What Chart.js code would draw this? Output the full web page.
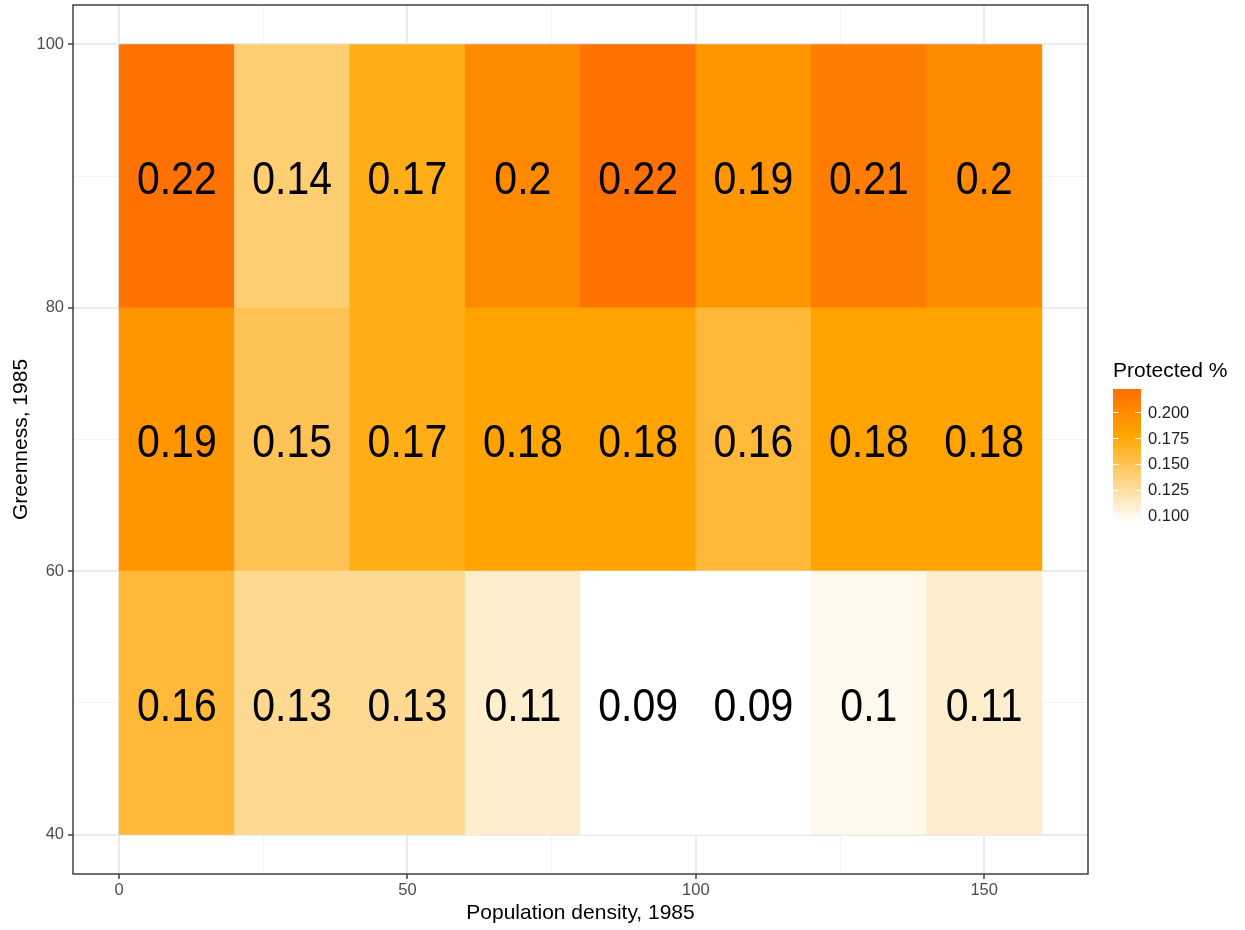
<!DOCTYPE html>
<html><head><meta charset="utf-8">
<script src="https://cdn.jsdelivr.net/npm/chart.js@4.4.1/dist/chart.umd.min.js"></script>
<style>html,body{margin:0;padding:0;background:#fff}#wrap{width:1245px;height:930px;position:relative}</style>
</head><body><div id="wrap"><canvas id="c"></canvas></div>
<script>
// ---- data ----
const densityCenters = [10, 30, 50, 70, 90, 110, 130, 150];
const greennessBins = [[40, 60], [60, 80], [80, 100]];
const protected40to60 = [0.16, 0.13, 0.13, 0.11, 0.09, 0.09, 0.10, 0.11];
const protected60to80 = [0.19, 0.15, 0.17, 0.18, 0.18, 0.16, 0.18, 0.18];
const protected80to100 = [0.22, 0.14, 0.17, 0.20, 0.22, 0.19, 0.21, 0.20];
const xTicks = [0, 25, 50, 75, 100, 125, 150];
const xTickLabels = ['0', '', '50', '', '100', '', '150'];
const yTicks = [40, 50, 60, 70, 80, 90, 100];
const yTickLabels = ['40', '', '60', '', '80', '', '100'];
const legendTicks = [0.100, 0.125, 0.150, 0.175, 0.200];
const legendTickLabels = ['0.100', '0.125', '0.150', '0.175', '0.200'];
const legendRange = [0.0939, 0.2223];
const xTitle = 'Population density, 1985';
const yTitle = 'Greenness, 1985';
const legendTitle = 'Protected %';

const rows = [protected40to60, protected60to80, protected80to100];
const FONT = '"Liberation Sans", Arial, sans-serif';

const colourStops = [[0.094, [255, 255, 255]], [0.178, [255, 165, 0]], [0.2223, [255, 110, 0]]];
function colourFor(v) {
  let c;
  if (v <= colourStops[0][0]) c = colourStops[0][1];
  else if (v >= colourStops[colourStops.length - 1][0]) c = colourStops[colourStops.length - 1][1];
  else {
    for (let i = 1; i < colourStops.length; i++) {
      if (v <= colourStops[i][0]) {
        const [v0, c0] = colourStops[i - 1], [v1, c1] = colourStops[i];
        const t = (v - v0) / (v1 - v0);
        c = c0.map((a, k) => Math.round(a + (c1[k] - a) * t));
        break;
      }
    }
  }
  return `rgb(${c[0]},${c[1]},${c[2]})`;
}

const datasets = rows.map((vals, r) => ({
  data: densityCenters.map((x, i) => ({ x: x, y: greennessBins[r].slice() })),
  backgroundColor: vals.map(colourFor),
  borderWidth: 0,
  grouped: false,
  barPercentage: 1,
  categoryPercentage: 1
}));

const isMajor = (arr, labels, v) => labels[arr.indexOf(v)] !== '';

const heatPlugin = {
  id: 'heatPlugin',
  afterDatasetsDraw(chart) {
    const { ctx, scales: { x, y } } = chart;
    ctx.save();
    ctx.fillStyle = '#000';
    ctx.font = '41px ' + FONT;
    ctx.textAlign = 'center';
    ctx.textBaseline = 'middle';
    rows.forEach((vals, r) => {
      const yc = y.getPixelForValue((greennessBins[r][0] + greennessBins[r][1]) / 2);
      vals.forEach((v, i) => {
        const xc = x.getPixelForValue(densityCenters[i]);
        ctx.save();
        ctx.translate(xc, yc + 5);
        ctx.scale(1, 1.12);
        ctx.fillText(String(v), 0, 0);
        ctx.restore();
      });
    });
    ctx.restore();
  },
  afterDraw(chart) {
    const { ctx, chartArea: a } = chart;
    ctx.save();
    // panel border
    ctx.strokeStyle = '#333333';
    ctx.lineWidth = 1.4;
    ctx.strokeRect(a.left, a.top, a.right - a.left, a.bottom - a.top);
    // legend
    const bx = 1113, bw = 28, bTop = 389, bBot = 522;
    const [vmin, vmax] = legendRange;
    const yOf = v => bBot - (v - vmin) / (vmax - vmin) * (bBot - bTop);
    ctx.fillStyle = '#000';
    ctx.font = '21px ' + FONT;
    ctx.textAlign = 'left';
    ctx.textBaseline = 'alphabetic';
    ctx.fillText(legendTitle, bx, 377);
    const g = ctx.createLinearGradient(0, bBot, 0, bTop);
    for (let i = 0; i <= 40; i++) {
      const t = i / 40;
      g.addColorStop(t, colourFor(vmin + t * (vmax - vmin)));
    }
    ctx.fillStyle = g;
    ctx.fillRect(bx, bTop, bw, bBot - bTop);
    ctx.strokeStyle = '#ffffff';
    ctx.lineWidth = 1;
    ctx.font = '16.5px ' + FONT;
    ctx.textBaseline = 'middle';
    legendTicks.forEach((v, i) => {
      const yy = Math.round(yOf(v)) + 0.5;
      ctx.beginPath();
      ctx.moveTo(bx, yy); ctx.lineTo(bx + 5.6, yy);
      ctx.moveTo(bx + bw - 5.6, yy); ctx.lineTo(bx + bw, yy);
      ctx.stroke();
      ctx.fillStyle = '#222';
      ctx.fillText(legendTickLabels[i], 1148, yOf(v) + 1);
    });
    ctx.restore();
  }
};

new Chart(document.getElementById('c'), {
  type: 'bar',
  data: { datasets },
  plugins: [heatPlugin],
  options: {
    responsive: true,
    maintainAspectRatio: false,
    animation: false,
    events: [],
    layout: { padding: { left: 0, right: 157, top: 5, bottom: 0 } },
    plugins: { legend: { display: false }, tooltip: { enabled: false } },
    scales: {
      x: {
        type: 'linear',
        min: -8, max: 168,
        offset: false,
        afterBuildTicks: s => { s.ticks = xTicks.map(v => ({ value: v })); },
        afterFit: s => { s.height = 56; s.paddingLeft = 0; s.paddingRight = 0; },
        grid: {
          offset: false,
          color: c => isMajor(xTicks, xTickLabels, c.tick.value) ? '#EBEBEB' : '#F3F3F3',
          lineWidth: c => isMajor(xTicks, xTickLabels, c.tick.value) ? 2 : 1,
          tickColor: c => isMajor(xTicks, xTickLabels, c.tick.value) ? '#333333' : 'rgba(0,0,0,0)',
          tickWidth: 1.4,
          tickLength: 5,
          drawTicks: true
        },
        border: { display: false },
        ticks: {
          autoSkip: false, maxRotation: 0, minRotation: 0, padding: 2,
          color: '#4D4D4D', font: { family: FONT, size: 16.5 },
          callback: (v) => xTickLabels[xTicks.indexOf(v)] ?? ''
        },
        title: { display: true, text: xTitle, color: '#000', font: { family: FONT, size: 21 }, padding: { top: 0, bottom: 4 } }
      },
      y: {
        type: 'linear',
        min: 37, max: 103,
        afterBuildTicks: s => { s.ticks = yTicks.map(v => ({ value: v })); },
        afterFit: s => { s.width = 73; s.paddingTop = 0; s.paddingBottom = 0; },
        grid: {
          color: c => isMajor(yTicks, yTickLabels, c.tick.value) ? '#EBEBEB' : '#F3F3F3',
          lineWidth: c => isMajor(yTicks, yTickLabels, c.tick.value) ? 2 : 1,
          tickColor: c => isMajor(yTicks, yTickLabels, c.tick.value) ? '#333333' : 'rgba(0,0,0,0)',
          tickWidth: 1.4,
          tickLength: 5,
          drawTicks: true
        },
        border: { display: false },
        ticks: {
          autoSkip: false, padding: 4,
          color: '#4D4D4D', font: { family: FONT, size: 16.5 },
          callback: (v) => yTickLabels[yTicks.indexOf(v)] ?? ''
        },
        title: { display: true, text: yTitle, color: '#000', font: { family: FONT, size: 21 }, padding: { top: 9, bottom: 0 } }
      }
    }
  }
});
</script>
</body></html>
